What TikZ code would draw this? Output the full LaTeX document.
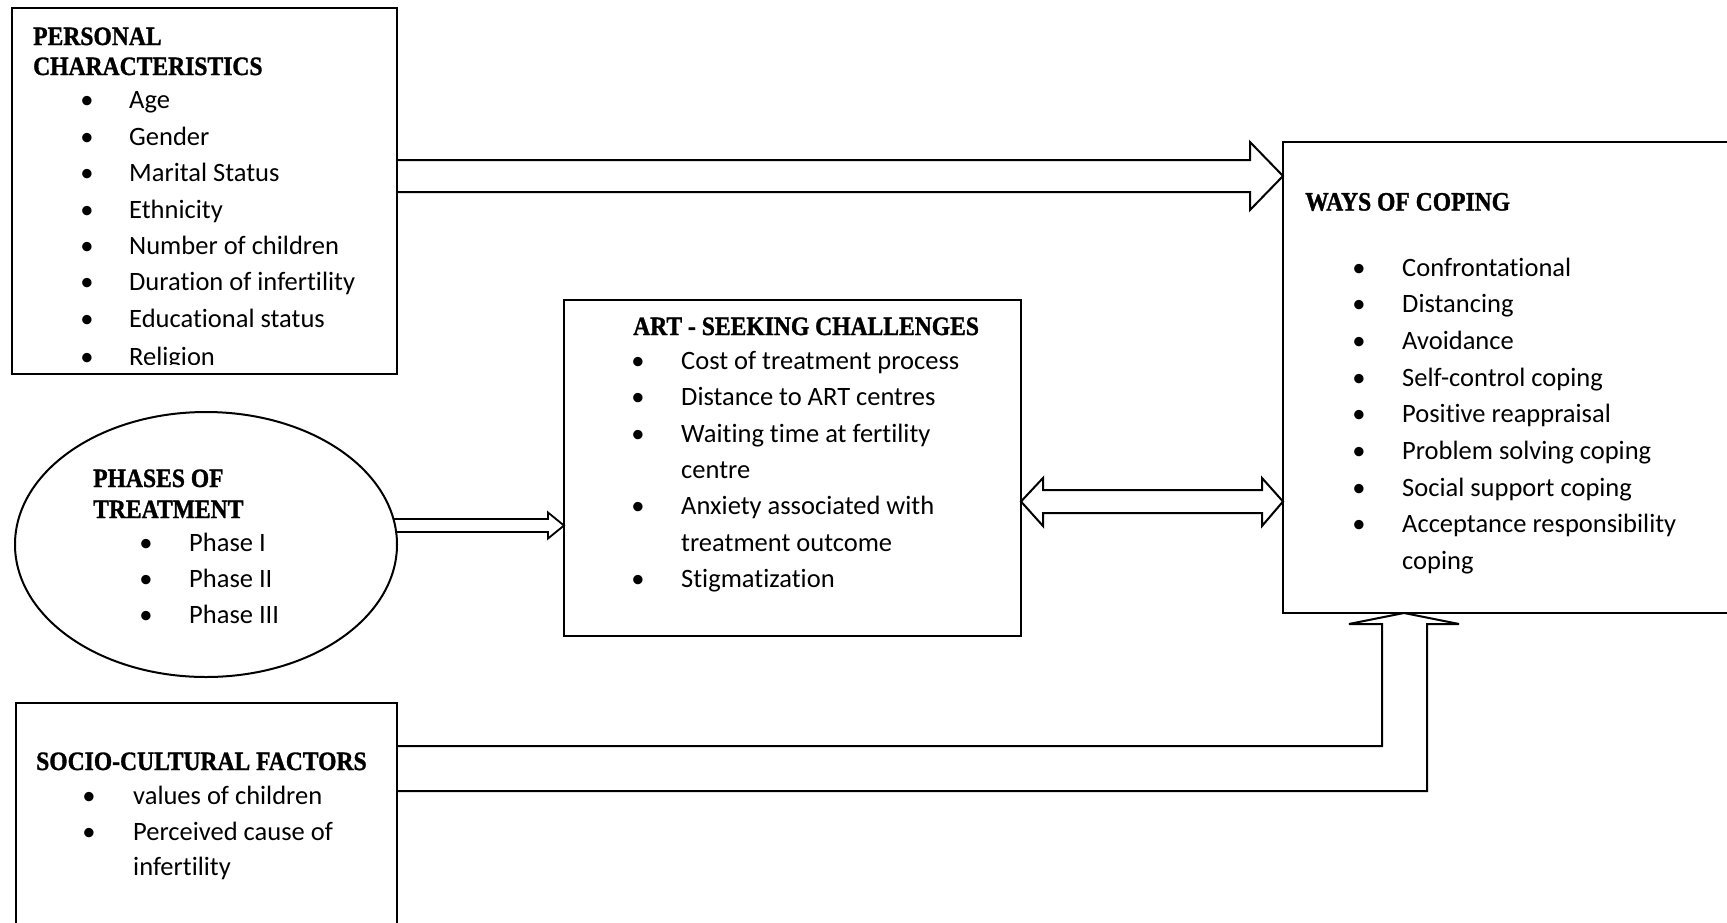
\documentclass[tikz,border=0pt]{standalone}
\usepackage{fontspec}
\setmainfont{Carlito}[Ligatures={NoCommon,NoRare,NoContextual},Contextuals={NoAlternate}]
\newfontfamily\headfont{Liberation Serif}[FakeStretch=0.89,BoldFeatures={FakeBold=1.2}]
\usetikzlibrary{shapes.geometric,calc}
\tikzset{
  box/.style={draw, line width=2.4pt, rectangle, inner sep=0pt, outer sep=0pt, anchor=north west},
  oval/.style={draw, ellipse, line width=2pt, inner sep=0pt, outer sep=0pt},
  bigarrow/.style={draw, line width=2pt, line join=miter},
  txt/.style={anchor=base west, inner sep=0pt, font=\fontsize{26.5}{36.7}\selectfont},
  bul/.style={anchor=base, inner sep=0pt, font=\fontsize{26.5}{36.7}\selectfont},
  head/.style={anchor=base west, inner sep=0pt, font=\headfont\bfseries\fontsize{26.5}{30}\selectfont},
}
\newcommand\brk{\kern0pt}
\newcommand\bitem[5]{\node[bul] (#1b) at (#2,#4) {•}; \node[txt] (#1) at (#3,#4) {#5};}
\newcommand\contline[4]{\node[txt] (#1) at (#2,#3) {#4};}
\begin{document}
\begin{tikzpicture}[x=1pt,y=-1pt]
\useasboundingbox (0,0) rectangle (1727,922);
\clip (0,0) rectangle (1727,922);
\fill[white] (0,0) rectangle (1727,922);

% ---- boxes ----
\node[box, minimum width=385pt, minimum height=366pt] (pc) at (12,8) {};
\node[box, minimum width=480pt, minimum height=471pt] (woc) at (1283,142) {};
\node[box, minimum width=457pt, minimum height=336pt] (art) at (564,300) {};
\node[oval, minimum width=382pt, minimum height=265pt] (ph) at (206,544.5) {};
\node[box, minimum width=381pt, minimum height=260pt] (sc) at (16,703) {};

% ---- personal characteristics ----
\node[head] (pch1) at (33,45) {PERSONAL};
\node[head] (pch2) at (33,75) {CHARACTERISTICS};
\bitem{pc1}{87}{129}{108.7}{Age}
\bitem{pc2}{87}{129}{145.1}{Gender}
\bitem{pc3}{87}{129}{181.6}{Marital Status}
\bitem{pc4}{87}{129}{218.0}{Ethnicity}
\bitem{pc5}{87}{129}{254.5}{Number of children}
\bitem{pc6}{87}{129}{290.9}{Durat\brk ion of infertility}
\bitem{pc7}{87}{129}{327.4}{Educat\brk ional status}
\begin{scope}
\clip (0,0) rectangle (1727,364.5);
\bitem{pc8}{87}{129}{365.5}{Religion}
\end{scope}

% ---- ways of coping ----
\node[head] (wh) at (1305,210.5) {WAYS OF COPING};
\bitem{w1}{1359}{1402}{276.0}{Confrontat\brk ional}
\bitem{w2}{1359}{1402}{312.7}{Distancing}
\bitem{w3}{1359}{1402}{349.4}{Avoidance}
\bitem{w4}{1359}{1402}{386.0}{Self-control coping}
\bitem{w5}{1359}{1402}{422.7}{Posit\brk ive reappraisal}
\bitem{w6}{1359}{1402}{459.4}{Problem solving coping}
\bitem{w7}{1359}{1402}{496.0}{Social support coping}
\bitem{w8}{1359}{1402}{532.7}{Acceptance responsibility}
\contline{w9}{1402}{569.4}{coping}

% ---- ART seeking challenges ----
\node[head] (ah) at (633,335) {ART - SEEKING CHALLENGES};
\bitem{a1}{638}{681}{369}{Cost of treatment process}
\bitem{a2}{638}{681}{405}{Distance to ART centres}
\bitem{a3}{638}{681}{442}{Wait\brk ing time at fertility}
\contline{a4}{681}{478}{centre}
\bitem{a5}{638}{681}{514}{Anxiety associated with}
\contline{a6}{681}{551}{treatment outcome}
\bitem{a7}{638}{681}{587}{Stigmat\brk izat\brk ion}

% ---- phases of treatment ----
\node[head] (ph1) at (93,487) {PHASES OF};
\node[head] (ph2) at (93,518) {TREATMENT};
\bitem{p1}{146}{189}{551}{Phase I}
\bitem{p2}{146}{189}{587}{Phase II}
\bitem{p3}{146}{189}{623}{Phase III}

% ---- socio-cultural factors ----
\node[head] (sh) at (36,770) {SOCIO-CULTURAL FACTORS};
\bitem{s1}{89}{133}{804}{values of children}
\bitem{s2}{89}{133}{840}{Perceived cause of}
\contline{s3}{133}{875}{infertility}

% ---- block arrows ----
\draw[bigarrow] (pc.east |- 0,160) -- (1250,160) -- (1250,142) -- (woc.west |- 0,176)
  -- (1250,210) -- (1250,192) -- (pc.east |- 0,192);

\draw[bigarrow, line width=1.8pt] ($(ph.east |- 0,519)+(-3.5,0)$) -- (548,519) -- (548,512.5)
  -- (art.west |- 0,525.5) -- (548,538.5) -- (548,532) -- ($(ph.east |- 0,532)+(-1,0)$);

\draw[bigarrow] (art.east |- 0,501.5) -- (1043,478) -- (1043,490) -- (1262,490) -- (1262,478)
  -- (woc.west |- 0,501.5) -- (1262,526) -- (1262,513) -- (1043,513) -- (1043,526) -- cycle;

\draw[bigarrow] (sc.east |- 0,746) -- (1382,746) -- (1382,624) -- (1349,624)
  -- (1404,0 |- woc.south) -- (1459,624) -- (1427,624) -- (1427,791) -- (sc.east |- 0,791);
\end{tikzpicture}
\end{document}
